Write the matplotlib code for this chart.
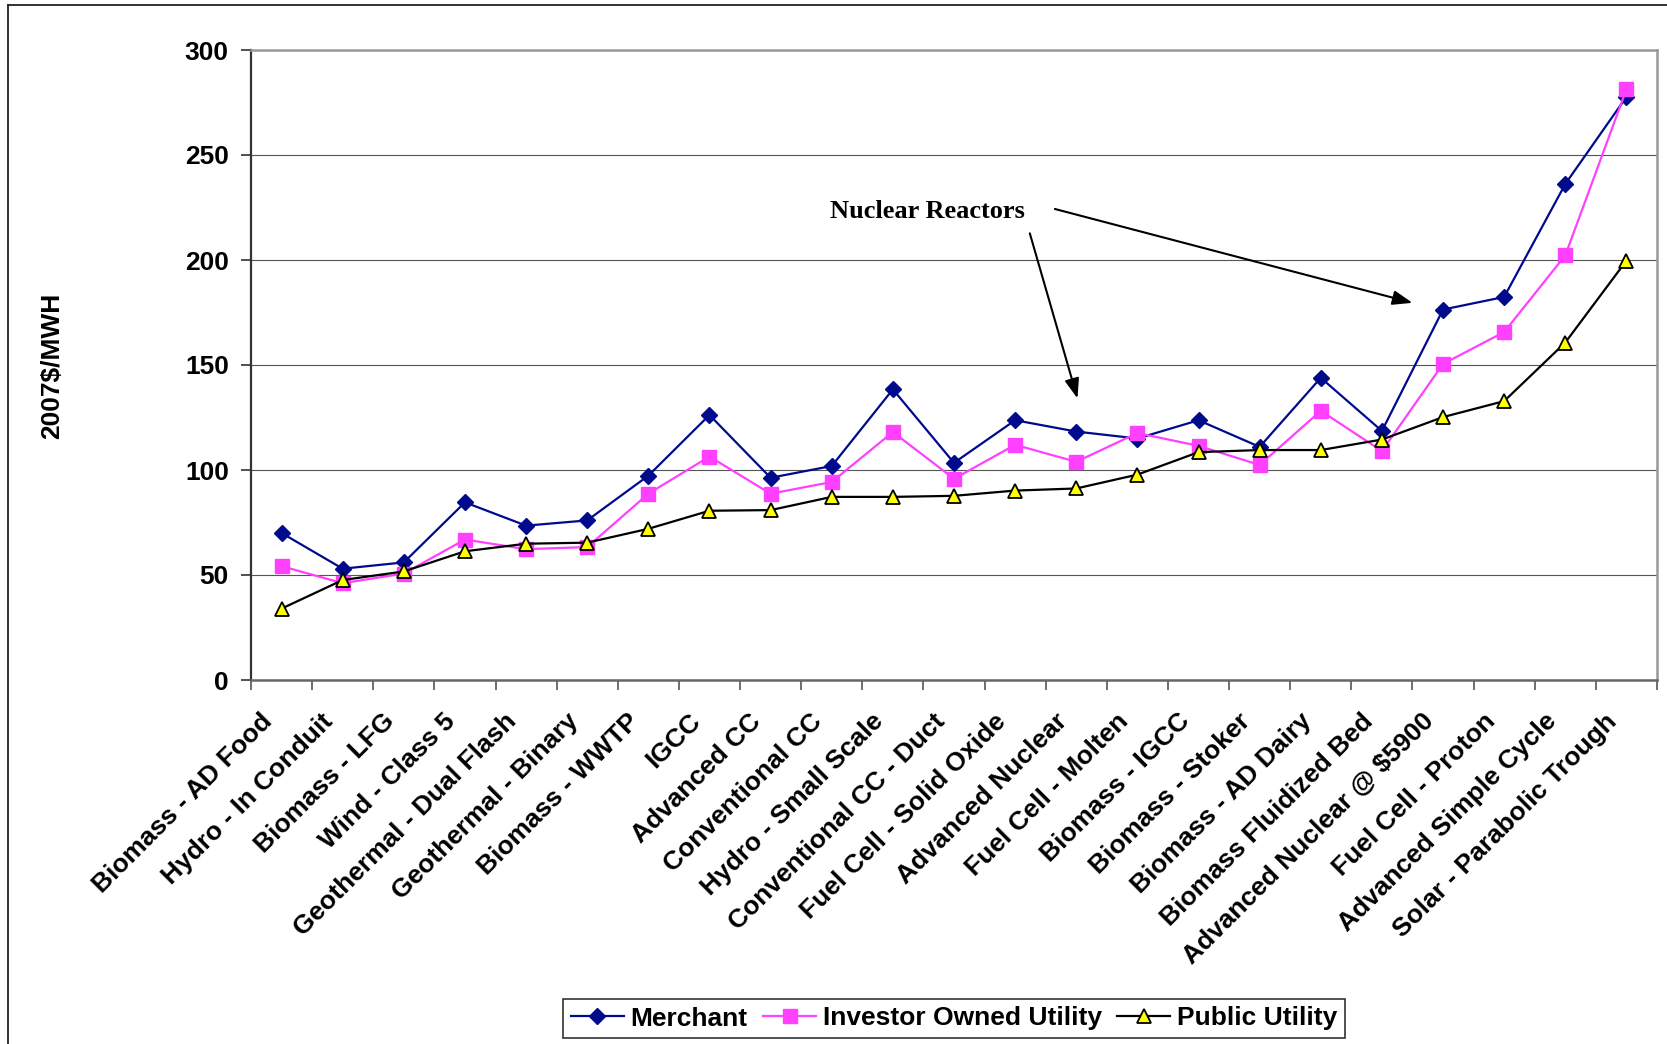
import matplotlib
matplotlib.use("Agg")
import matplotlib.pyplot as plt
from matplotlib.lines import Line2D
from matplotlib.transforms import ScaledTranslation

categories = [
    "Biomass - AD Food", "Hydro - In Conduit", "Biomass - LFG", "Wind - Class 5",
    "Geothermal - Dual Flash", "Geothermal - Binary", "Biomass - WWTP", "IGCC",
    "Advanced CC", "Conventional CC", "Hydro - Small Scale", "Conventional CC - Duct",
    "Fuel Cell - Solid Oxide", "Advanced Nuclear", "Fuel Cell - Molten", "Biomass - IGCC",
    "Biomass - Stoker", "Biomass - AD Dairy", "Biomass Fluidized Bed",
    "Advanced Nuclear @ $5900", "Fuel Cell - Proton", "Advanced Simple Cycle",
    "Solar - Parabolic Trough",
]
merchant = [70.0, 53.0, 56.0, 84.6, 73.5, 76.0, 97.3, 126.2, 96.3, 101.9, 138.4, 103.4,
            123.7, 118.3, 115.0, 123.7, 111.0, 143.9, 118.6, 176.4, 182.4, 236.2, 277.7]
investor = [54.2, 46.1, 50.7, 66.9, 62.3, 63.3, 88.7, 106.4, 88.7, 94.3, 118.1, 95.8,
            112.0, 103.9, 117.6, 111.5, 102.4, 128.2, 109.0, 150.5, 165.7, 202.2, 281.3]
public = [34.0, 47.6, 51.7, 61.3, 64.9, 65.4, 72.0, 80.6, 80.9, 87.2, 87.2, 87.7,
          90.2, 91.2, 97.8, 108.5, 109.5, 109.5, 114.5, 125.2, 132.8, 160.7, 199.7]
series_names = ["Merchant", "Investor Owned Utility", "Public Utility"]
y_ticks = [0, 50, 100, 150, 200, 250, 300]
annotation_text = "Nuclear Reactors"
y_label = "2007$/MWH"

W, H = 1667, 1044
fig = plt.figure(figsize=(W / 100, H / 100), dpi=100)
sans = "Liberation Sans"

ax = fig.add_axes([251 / W, 1 - 680 / H, 1406 / W, 630 / H])
x = list(range(len(categories)))

ax.plot(x, merchant, color="#000A8C", lw=1.6, marker="D", ms=8,
        mfc="#000A8C", mec="#000A8C", label=series_names[0], zorder=3)
ax.plot(x, investor, color="#FF40FF", lw=1.6, marker="s", ms=10,
        mfc="#FF40FF", mec="#FF40FF", label=series_names[1], zorder=4)
ax.plot(x, public, color="black", lw=1.6, marker="^", ms=10,
        mfc="#FFFF00", mec="black", mew=1.3, label=series_names[2], zorder=5)

ax.set_xlim(-0.5, len(categories) - 0.5)
ax.set_ylim(0, 300)
ax.set_yticks(y_ticks)
ax.set_yticklabels([str(v) for v in y_ticks], fontfamily=sans, fontweight="bold", fontsize=19)
ax.yaxis.grid(True, color="#555555", lw=0.8)
ax.set_axisbelow(True)

ax.set_xticks(x)
ax.set_xticklabels(categories, rotation=45, ha="right", va="center",
                   rotation_mode="anchor", fontfamily=sans, fontweight="bold", fontsize=19)
ax.set_xticks([i - 0.5 for i in range(len(categories) + 1)], minor=True)
ax.tick_params(axis="x", which="major", length=0, pad=27)
ax.tick_params(axis="x", which="minor", length=7, width=1.2, color="#555555", direction="out")
ax.tick_params(axis="y", length=7, width=1.2, color="#333333", direction="out", pad=9)

offset = ScaledTranslation(-13 / 100, 0, fig.dpi_scale_trans)
for tick in ax.xaxis.get_major_ticks():
    tick.label1.set_transform(tick.label1.get_transform() + offset)

ax.spines["left"].set_color("#333333")
ax.spines["left"].set_linewidth(1.6)
ax.spines["bottom"].set_color("#666666")
ax.spines["bottom"].set_linewidth(1.8)
ax.spines["top"].set_color("#999999")
ax.spines["top"].set_linewidth(1.8)
ax.spines["right"].set_color("#999999")
ax.spines["right"].set_linewidth(1.8)

fig.text(52 / W, 1 - 366 / H, y_label, rotation=90, ha="center", va="center",
         fontfamily=sans, fontweight="bold", fontsize=19)

ax.text(10.57, 223.3, annotation_text, ha="center", va="center",
        fontfamily="Liberation Serif", fontweight="bold", fontsize=19, zorder=6)
arrow_kw = dict(arrowstyle="-|>,head_length=0.6,head_width=0.22", color="black",
                lw=1.5, mutation_scale=20, shrinkA=0, shrinkB=0)
ax.annotate("", xy=(18.5, 179.6), xytext=(12.65, 224.3), arrowprops=arrow_kw, zorder=6)
ax.annotate("", xy=(13.02, 134.1), xytext=(12.24, 212.7), arrowprops=arrow_kw, zorder=6)

leg = fig.legend(loc="center", bbox_to_anchor=(954 / W, 1 - 1018.5 / H), ncol=3,
                 prop={"family": sans, "weight": "bold", "size": 19},
                 frameon=True, fancybox=False, edgecolor="#333333", framealpha=1,
                 handlelength=2.0, handletextpad=0.25, columnspacing=0.6,
                 borderpad=0.3, borderaxespad=0)
leg.get_frame().set_linewidth(1.2)

fig.add_artist(Line2D([8 / W, 8 / W], [0, 1 - 5 / H], transform=fig.transFigure,
                      color="#222222", lw=1.3))
fig.add_artist(Line2D([8 / W, 1], [1 - 5 / H, 1 - 5 / H], transform=fig.transFigure,
                      color="#222222", lw=1.3))

fig.savefig("out.png", dpi=100)
